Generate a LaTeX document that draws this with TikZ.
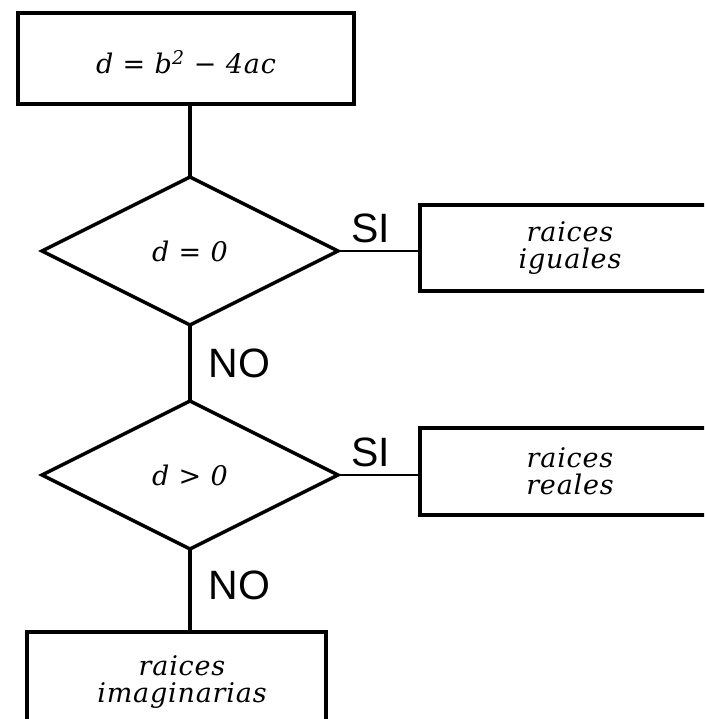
\documentclass[tikz,border=0pt]{standalone}
\usepackage{fontspec}
\setmainfont{DejaVu Serif}
\newfontfamily\bxfam[LetterSpace=3]{DejaVu Serif}
\newfontfamily\lblfam{Liberation Sans}
\usetikzlibrary{shapes.geometric}
\newcommand*\bxfont{\bxfam\fontsize{27}{27}\selectfont\itshape}
\newcommand*\lbfont{\lblfam\fontsize{41}{41}\selectfont}
\begin{document}
\begin{tikzpicture}[x=1pt,y=-1pt,
  box/.style={draw, rectangle, line width=4.5pt, inner sep=0pt, outer sep=0pt, align=center, font=\bxfont},
  dec/.style={draw, diamond, line width=3.5pt, minimum width=296pt, minimum height=148pt, inner sep=0pt, outer sep=0pt, font=\bxfont},
  vlink/.style={line width=3.8pt},
  hlink/.style={line width=1.8pt},
  silab/.style={pos=0.4, anchor=south, inner sep=0pt, yshift=7pt, font=\lbfont},
  nolab/.style={anchor=west, inner sep=0pt, xshift=17pt, font=\lbfont}]
\useasboundingbox (0,0) rectangle (704,719);
\fill[white] (0,0) rectangle (704,719);
\clip (0,0) rectangle (704,719);
% nodes
\node[box, minimum width=336pt, minimum height=91pt, text height=31pt, text depth=0pt] (top) at (186,58.5) {d = b\textsuperscript{2} − 4ac};
\node[dec] (q1) at (190,251) {d = 0};
\node[dec] (q2) at (190,475) {d > 0};
\node[box, minimum width=300pt, minimum height=86pt] (r1) at (570,248) {raices\\iguales};
\node[box, minimum width=300pt, minimum height=87pt] (r2) at (570,471.5) {raices\\reales};
\node[box, minimum width=299pt, minimum height=128pt] (r3) at (176.5,696) {};
\node[font=\bxfont, align=center, inner sep=0pt] (r3t) at (182,682) {raices\\imaginarias};
% connectors
\draw[vlink] (top.south -| q1.north) -- (q1.north);
\draw[hlink] (q1.east) -- node[silab] {SI} (q1.east -| r1.west);
\draw[vlink] (q1.south) -- node[nolab, pos=0.5] {NO} (q2.north);
\draw[hlink] (q2.east) -- node[silab] {SI} (q2.east -| r2.west);
\draw[vlink] (q2.south) -- node[nolab, pos=0.44] {NO} (q2.south |- r3.north);
\end{tikzpicture}
\end{document}
